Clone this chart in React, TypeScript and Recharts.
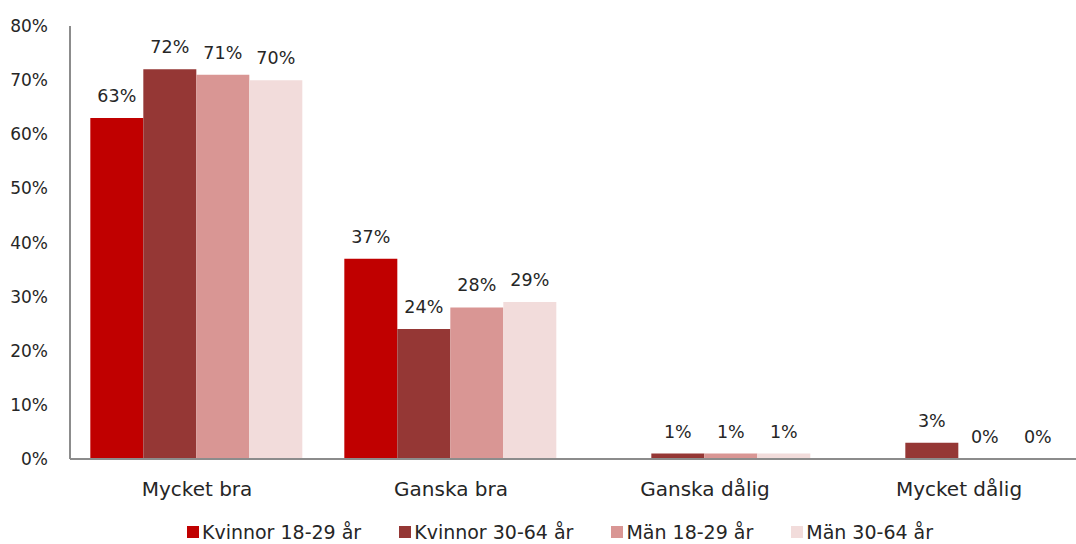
import { BarChart, Bar, XAxis, YAxis, Legend, LabelList } from "recharts"

const categories = ["Mycket bra", "Ganska bra", "Ganska dålig", "Mycket dålig"]
const kvinnor1829: (number | null)[] = [63, 37, null, null]
const kvinnor3064: (number | null)[] = [72, 24, 1, 3]
const man1829: (number | null)[] = [71, 28, 1, 0]
const man3064: (number | null)[] = [70, 29, 1, 0]
const yTicks = [0, 10, 20, 30, 40, 50, 60, 70, 80]

const series = [
  { key: "k1829", name: "Kvinnor 18-29 år", values: kvinnor1829, color: "#C00000" },
  { key: "k3064", name: "Kvinnor 30-64 år", values: kvinnor3064, color: "#953735" },
  { key: "m1829", name: "Män 18-29 år", values: man1829, color: "#D99694" },
  { key: "m3064", name: "Män 30-64 år", values: man3064, color: "#F2DCDB" },
]

const data = categories.map((cat, i) => {
  const row: Record<string, string | number | null> = { cat }
  series.forEach((s) => {
    row[s.key] = s.values[i]
  })
  return row
})

const font = "'DejaVu Sans', sans-serif"
const textColor = "#262626"

function ValueLabel(props: any) {
  const { x, y, width, value } = props
  if (value == null || x == null) return null
  return (
    <text
      x={Number(x) + Number(width) / 2}
      y={Number(y) - 16}
      textAnchor="middle"
      fontSize={17.5}
      fill={textColor}
      fontFamily={font}
    >
      {`${value}%`}
    </text>
  )
}

function LegendRow() {
  return (
    <div
      style={{
        display: "flex",
        justifyContent: "center",
        gap: 38,
        paddingTop: 12,
        paddingLeft: 34,
        fontSize: 19,
        lineHeight: "22px",
        color: textColor,
        fontFamily: font,
      }}
    >
      {series.map((s) => (
        <div key={s.key} style={{ display: "flex", alignItems: "center", gap: 3 }}>
          <span style={{ width: 12, height: 12, background: s.color, display: "inline-block" }} />
          <span>{s.name}</span>
        </div>
      ))}
    </div>
  )
}

// zero values still need their "0%" label, so give them an invisible sliver
const zeroSliver = (value: any) => (value === 0 ? 0.01 : 0)

export default function App() {
  return (
    <div
      style={{
        position: "fixed",
        left: 0,
        top: 0,
        width: 1076,
        height: 544,
        overflow: "hidden",
        background: "#fff",
        fontFamily: font,
      }}
    >
      <BarChart
        width={1100}
        height={544}
        data={data}
        margin={{ top: 26, right: 14, left: 0, bottom: 0 }}
        barCategoryGap="8%"
        barGap={0}
      >
        <YAxis
          width={70}
          domain={[0, 80]}
          ticks={yTicks}
          tickFormatter={(v) => `${v}%`}
          tick={{ fontSize: 17, fill: textColor, fontFamily: font }}
          tickLine={false}
          tickMargin={16}
          axisLine={{ stroke: "#8c8c8c", strokeWidth: 2 }}
        />
        <XAxis
          dataKey="cat"
          tick={{ fontSize: 20, fill: textColor, fontFamily: font }}
          tickLine={false}
          tickMargin={17}
          height={50}
          axisLine={{ stroke: "#8c8c8c", strokeWidth: 2 }}
        />
        <Legend verticalAlign="bottom" height={35} content={<LegendRow />} />
        {series.map((s) => (
          <Bar
            key={s.key}
            dataKey={s.key}
            name={s.name}
            fill={s.color}
            minPointSize={zeroSliver}
            isAnimationActive={false}
          >
            <LabelList dataKey={s.key} content={<ValueLabel />} />
          </Bar>
        ))}
      </BarChart>
    </div>
  )
}
